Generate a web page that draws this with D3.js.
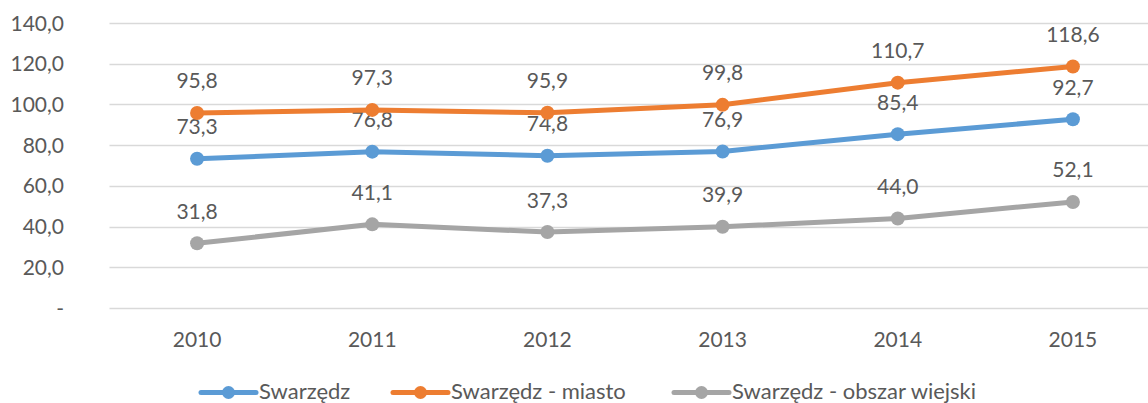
<!DOCTYPE html>
<html>
<head>
<meta charset="utf-8">
<script src="https://cdn.jsdelivr.net/npm/d3@7.9.0/dist/d3.min.js"></script>
<style>
  body { margin: 0; background: #fff; }
  svg text { font-family: Lato, 'Open Sans', sans-serif; fill: #595959; }
</style>
</head>
<body>
<svg id="chart" width="1148" height="403"></svg>
<script>
const years = ['2010', '2011', '2012', '2013', '2014', '2015'];
const swarzedz = [73.3, 76.8, 74.8, 76.9, 85.4, 92.7];
const miasto = [95.8, 97.3, 95.9, 99.8, 110.7, 118.6];
const wies = [31.8, 41.1, 37.3, 39.9, 44.0, 52.1];
const yTicks = [0, 20, 40, 60, 80, 100, 120, 140];

const series = [
  { name: 'Swarzędz', values: swarzedz, color: '#5B9BD5' },
  { name: 'Swarzędz - miasto', values: miasto, color: '#ED7D31' },
  { name: 'Swarzędz - obszar wiejski', values: wies, color: '#A5A5A5' },
];

const fmt = (v) => v === 0 ? '-' : v.toFixed(1).replace('.', ',');

const svg = d3.select('#chart');
const plotLeft = 109.5, plotRight = 1160.5, plotTop = 23, plotBottom = 308;
const numSize = 21;

const x = d3.scalePoint().domain(years).range([plotLeft, plotRight]).padding(0.5);
const y = d3.scaleLinear().domain([0, 140]).range([plotBottom, plotTop]);

// gridlines
svg.append('g')
  .selectAll('line')
  .data(yTicks)
  .join('line')
  .attr('x1', plotLeft)
  .attr('x2', plotRight)
  .attr('y1', (d) => Math.round(y(d)) + 0.5)
  .attr('y2', (d) => Math.round(y(d)) + 0.5)
  .attr('stroke', '#D9D9D9')
  .attr('stroke-width', 1.3);

// y labels
svg.append('g')
  .selectAll('text')
  .data(yTicks)
  .join('text')
  .attr('x', 64)
  .attr('y', (d) => y(d))
  .attr('dy', '0.36em')
  .attr('text-anchor', 'end')
  .attr('font-size', numSize)
  .text(fmt);

// x labels
svg.append('g')
  .selectAll('text')
  .data(years)
  .join('text')
  .attr('x', (d) => x(d))
  .attr('y', 347)
  .attr('text-anchor', 'middle')
  .attr('font-size', numSize)
  .text((d) => d);

const line = d3.line()
  .x((d, i) => x(years[i]))
  .y((d) => y(d));

series.forEach((s) => {
  const g = svg.append('g');
  g.append('path')
    .attr('d', line(s.values))
    .attr('fill', 'none')
    .attr('stroke', s.color)
    .attr('stroke-width', 5)
    .attr('stroke-linejoin', 'round')
    .attr('stroke-linecap', 'round');
  g.selectAll('circle')
    .data(s.values)
    .join('circle')
    .attr('cx', (d, i) => x(years[i]))
    .attr('cy', (d) => y(d))
    .attr('r', 7)
    .attr('fill', s.color);
  g.selectAll('text')
    .data(s.values)
    .join('text')
    .attr('x', (d, i) => x(years[i]))
    .attr('y', (d) => y(d) - 24.5)
    .attr('text-anchor', 'middle')
    .attr('font-size', numSize)
    .text(fmt);
});

// legend
const legendX = [201, 393, 674];
const legend = svg.append('g');
series.forEach((s, i) => {
  const lx = legendX[i];
  const ly = 392.5;
  legend.append('line')
    .attr('x1', lx).attr('x2', lx + 55)
    .attr('y1', ly).attr('y2', ly)
    .attr('stroke', s.color)
    .attr('stroke-width', 5)
    .attr('stroke-linecap', 'round');
  legend.append('circle')
    .attr('cx', lx + 27.5).attr('cy', ly).attr('r', 6.5)
    .attr('fill', s.color);
  legend.append('text')
    .attr('x', lx + 58)
    .attr('y', 398.5)
    .attr('font-size', 22)
    .text(s.name);
});
</script>
</body>
</html>
